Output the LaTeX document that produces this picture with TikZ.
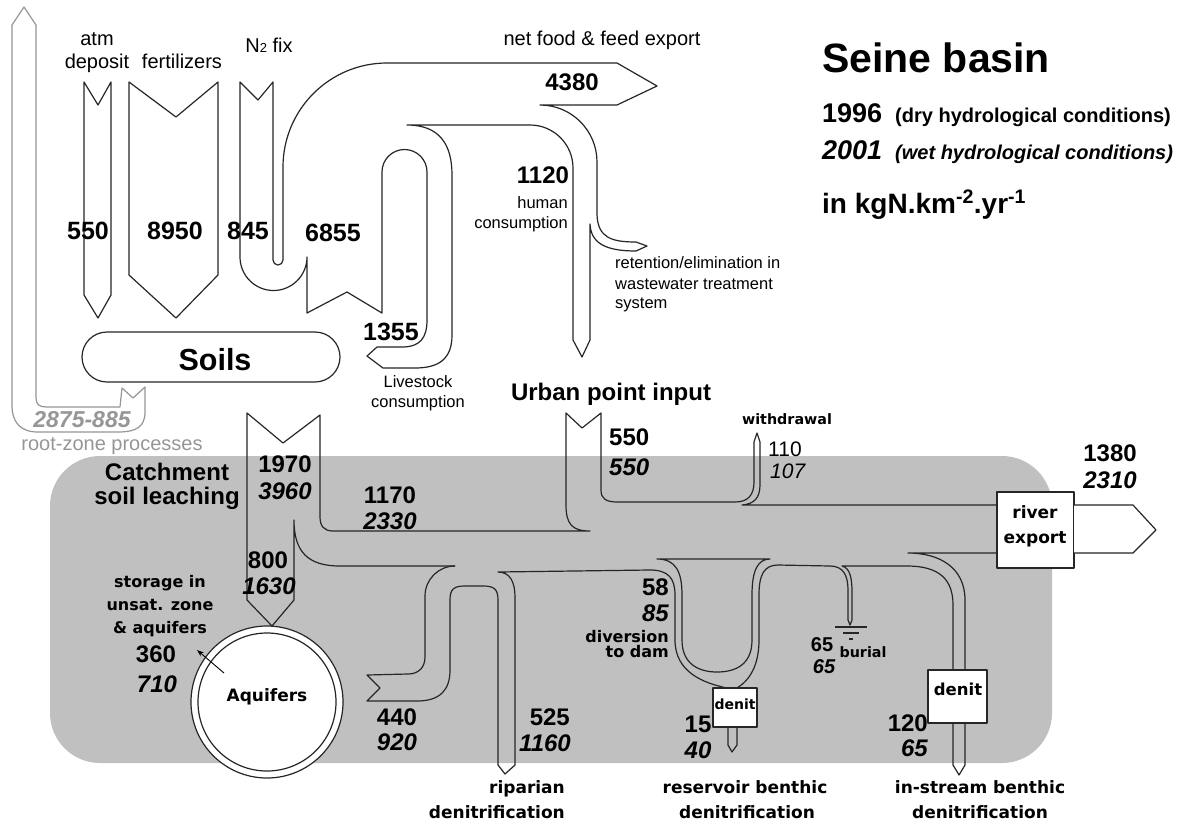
\documentclass[tikz,border=0pt]{standalone}
\usepackage{fontspec}
\setmainfont{Liberation Sans}
\newfontfamily\dvfont{DejaVu Sans}
\usetikzlibrary{arrows.meta}
\definecolor{bgrey}{RGB}{192,192,192}
\definecolor{lgrey}{RGB}{150,150,150}
\newcommand\fsz[1]{\fontsize{#1}{#1}\selectfont}
\begin{document}
\begin{tikzpicture}[x=1pt,y=-1pt,
  ln/.style={line width=1.2pt, draw=black!85, line join=round},
  lgl/.style={line width=1.2pt, draw=lgrey, line join=round},
  num/.style={inner sep=0pt, font=\fsz{24}\bfseries},
  numi/.style={inner sep=0pt, font=\fsz{24}\bfseries\itshape},
  tnum/.style={inner sep=0pt, font=\fsz{25}\bfseries},
  lab/.style={inner sep=0pt, font=\fsz{20}},
  sml/.style={inner sep=0pt, font=\fsz{16.5}},
  dvb/.style={inner sep=0pt, font=\dvfont\fsz{16.5}\bfseries},
  big/.style={inner sep=0pt, font=\fsz{24}\bfseries},
]
\useasboundingbox (0,0) rectangle (1201,825);
\fill[white] (0,0) rectangle (1201,825);
\fill[bgrey, rounded corners=50pt] (50,456) rectangle (1052,763);

% grey root-zone loop arrow
\draw[lgl] (145,387) -- (145,412) .. controls (145,427) and (136,432) .. (118,432) -- (38,432) .. controls (20,432) and (12,422) .. (12,405) -- (12,25) -- (24,7) -- (36,25) -- (36,398) .. controls (36,404) and (39,407) .. (46,407) -- (120,407) -- (122,388) -- (133,398) -- cycle;

% input arrows
\draw[ln] (84,82) -- (98,105) -- (111,82) -- (111,295) -- (98,318) -- (84,295) -- cycle;
\draw[ln] (129,82) -- (176,117) -- (218,82) -- (218,275) -- (176,318) -- (129,275) -- cycle;

% agricultural system
\draw[ln] (240,82) -- (258,100) -- (273,82) -- (273,260) arc[start angle=180,end angle=0,radius=5] -- (283,167) arc[start angle=180,end angle=270,radius=104] -- (617,63) -- (657,86) -- (617,105) -- (540,105) arc[start angle=270,end angle=360,radius=57] -- (597,215) .. controls (598,238) and (612,242) .. (636,242) -- (647,246) -- (636,251) .. controls (605,251) and (591,243) .. (590,224) -- (590,340) -- (582,357) -- (573,340) -- (573,168) arc[start angle=0,end angle=-90,radius=43] -- (407,125) .. controls (440,125) and (452,145) .. (452,175) -- (452,335) .. controls (452,358) and (440,368) .. (415,368) -- (383,368) -- (367,356) -- (377,347) -- (402,347) .. controls (420,347) and (427,338) .. (427,320) -- (427,172) arc[start angle=0,end angle=-180,radius=22.5] -- (382,313) -- (347,292) -- (307,313) -- (307,257) arc[start angle=0,end angle=180,radius=33.5] -- cycle;

% soils
\draw[ln, fill=white, rounded corners=25pt] (82,332) rectangle (340,382);
\node[inner sep=0pt, font=\fsz{30.5}\bfseries] (soils) at (215,360) {Soils};

% leaching, urban, river top
\draw[ln] (455,566) -- (340,566) .. controls (308,566) and (294,552) .. (294,520) -- (294,600) -- (272,626) -- (247,600) -- (247,413) -- (283,443) -- (320,415) -- (320,517) .. controls (320,526) and (324,531) .. (333,531) -- (590,531) .. controls (572,531) and (566,524) .. (566,505) -- (566,413) -- (582,428) -- (601,413) -- (601,490) .. controls (601,499) and (606,502) .. (618,502) -- (735,502) .. controls (748,502) and (754,495) .. (754,482) -- (754,442) -- (757,433) -- (760,442) -- (760,485) .. controls (760,498) and (754,504) .. (742,505) -- (997,505);

% aquifer exchange, riparian, diversion outer left
\draw[ln] (455,566) arc[start angle=-90,end angle=-180,radius=30] -- (425,657) .. controls (425,668) and (418,674) .. (408,674) -- (367,675) -- (380,688) -- (367,701) -- (417,701) .. controls (440,701) and (450,690) .. (450,670) -- (450,600) .. controls (450,589) and (454,586) .. (465,586) -- (483,586) .. controls (494,586) and (498,589) .. (498,600) -- (498,765) -- (505,774) -- (515,765) -- (515,597) .. controls (515,582) and (510,572) .. (498,572) -- (650,570) .. controls (668,570) and (675,578) .. (675,595) -- (675,640) .. controls (675,672) and (703,683) .. (727,688);

% diversion inner U
\draw[ln] (657,559) -- (770,559) .. controls (758,559) and (752,570) .. (752,595) -- (752,640) .. controls (752,665) and (735,672) .. (717,672) .. controls (700,672) and (682,665) .. (682,640) -- (682,595) .. controls (682,572) and (676,559) .. (657,559) -- cycle;

% diversion outer right, burial, in-stream
\draw[ln] (737,688) .. controls (750,680) and (759,665) .. (759,640) -- (759,595) .. controls (759,575) and (764,565) .. (778,565) -- (830,566) .. controls (843,566) and (848,575) .. (848,590) -- (848,620) -- (850,625) -- (852,620) -- (852,592) .. controls (852,578) and (850,568) .. (842,566) -- (907,566) .. controls (940,566) and (953,580) .. (953,605) -- (953,670);
\draw[ln] (965,670) -- (965,600) .. controls (965,568) and (940,553) .. (908,553) -- (997,553);
\draw[ln] (835,627) -- (867,627) (843,633) -- (859,633) (849,639) -- (853,639);

% aquifers
\draw[ln, fill=white] (267,702) circle[radius=76];
\draw[ln] (267,702) circle[radius=69];
\node[dvb, font=\dvfont\fsz{17}\bfseries] (aq) at (267,697) {Aquifers};
\draw[line width=0.9pt, -{Stealth[length=7pt,width=5pt]}] (224,673) -- (197,650);

% boxes
\draw[ln, fill=white] (713,688) rectangle (757,727);
\node[dvb, font=\dvfont\fsz{14}\bfseries] (rdenit) at (735,704) {denit};
\draw[ln] (728,727) -- (728,745) -- (732,752) -- (737,745) -- (737,727);
\draw[ln, fill=white] (928,670) rectangle (987,723);
\node[dvb] (idenit) at (958,689) {denit};
\draw[ln] (953,723) -- (953,765) -- (959,775) -- (965,765) -- (965,723);
\draw[ln, fill=white] (997,492) rectangle (1074,568);
\draw[ln, fill=white] (1074,505) -- (1133,505) -- (1156,530) -- (1133,553) -- (1074,553);
\node[dvb, font=\dvfont\fsz{17}\bfseries] (riv1) at (1035,512) {river};
\node[dvb, font=\dvfont\fsz{17}\bfseries, anchor=base] (riv2) at (1035,543) {export};

% top labels
\node[lab, anchor=base] (atm) at (97,45) {atm};
\node[lab, anchor=base] (dep) at (97,68) {deposit};
\node[lab, anchor=base] (fert) at (182,68) {fertilizers};
\node[lab, anchor=base] (n2) at (269,52) {N{\fsz{13}2} fix};
\node[lab, anchor=base] (nfe) at (602,45) {net food \& feed export};
\node[tnum] (v550) at (88,231) {550};
\node[tnum] (v8950) at (175,231) {8950};
\node[tnum] (v845) at (248,231) {845};
\node[tnum] (v6855) at (333,233) {6855};
\node[tnum] (v1355) at (391,332) {1355};
\node[num] (v4380) at (572,82) {4380};
\node[num] (v1120) at (543,175) {1120};
\node[sml, anchor=base east] (hum1) at (568,208) {human};
\node[sml, anchor=base east] (hum2) at (568,228) {consumption};
\node[sml, anchor=base west] (ret1) at (615,268) {retention/elimination in};
\node[sml, anchor=base west] (ret2) at (615,289) {wastewater treatment};
\node[sml, anchor=base west] (ret3) at (615,308) {system};
\node[sml, anchor=base] (liv1) at (418,387) {Livestock};
\node[sml, anchor=base] (liv2) at (418,407) {consumption};

% title block
\node[inner sep=0pt, anchor=base west, font=\fsz{41}\bfseries] (title) at (822,72) {Seine basin};
\node[inner sep=0pt, anchor=base west, font=\fsz{27}\bfseries] (y96) at (822,122) {1996};
\node[inner sep=0pt, anchor=base west, font=\fsz{20}\bfseries] (y96t) at (895,122) {(dry hydrological conditions)};
\node[inner sep=0pt, anchor=base west, font=\fsz{27}\bfseries\itshape] (y01) at (822,159) {2001};
\node[inner sep=0pt, anchor=base west, font=\fsz{20}\bfseries\itshape] (y01t) at (895,159) {(wet hydrological conditions)};
\node[inner sep=0pt, anchor=base west, font=\fsz{28}\bfseries] (unit) at (822,213) {in kgN.km\textsuperscript{-2}.yr\textsuperscript{-1}};

% root zone
\node[inner sep=0pt, text=lgrey, font=\fsz{23}\bfseries\itshape] (rz1) at (82,420) {2875-885};
\node[inner sep=0pt, text=lgrey, font=\fsz{20}, anchor=base] (rz2) at (112,450) {root-zone processes};

% lower labels
\node[big, anchor=base] (catch1) at (167,480) {Catchment};
\node[big, anchor=base] (catch2) at (167,504) {soil leaching};
\node[num] (a1970) at (285,464) {1970};
\node[numi] (a3960) at (285,491) {3960};
\node[num] (a1170) at (390,495) {1170};
\node[numi] (a2330) at (390,521) {2330};
\node[num] (a800) at (268,560) {800};
\node[numi] (a1630) at (269,586) {1630};
\node[dvb, font=\dvfont\fsz{16}\bfseries, anchor=base] (st1) at (160,587) {storage in};
\node[dvb, font=\dvfont\fsz{16}\bfseries, anchor=base] (st2) at (160,610) {unsat. zone};
\node[dvb, font=\dvfont\fsz{16}\bfseries, anchor=base] (st3) at (160,633) {\& aquifers};
\node[num] (a360) at (156,654) {360};
\node[numi] (a710) at (157,684) {710};
\node[num] (a440) at (397,717) {440};
\node[numi] (a920) at (397,742) {920};
\node[num, anchor=east] (a525) at (570,717) {525};
\node[numi, anchor=east] (a1160) at (571,743) {1160};
\node[dvb, font=\dvfont\fsz{17}\bfseries, anchor=base east] (rip1) at (565,793) {riparian};
\node[dvb, font=\dvfont\fsz{17}\bfseries, anchor=base east] (rip2) at (565,818) {denitrification};
\node[big, anchor=base] (urb) at (611,400) {Urban point input};
\node[num, anchor=west] (u550) at (609,437) {550};
\node[numi, anchor=west] (u550i) at (609,467) {550};
\node[dvb, font=\dvfont\fsz{14.3}\bfseries, anchor=base] (wd) at (787,424) {withdrawal};
\node[inner sep=0pt, font=\fsz{21}, anchor=west] (w110) at (768,449) {110};
\node[inner sep=0pt, font=\fsz{21}\itshape, anchor=west] (w107) at (770,471) {107};
\node[num, anchor=east] (d58) at (669,587) {58};
\node[numi, anchor=east] (d85) at (669,613) {85};
\node[dvb, font=\dvfont\fsz{16}\bfseries, anchor=base east] (dv1) at (669,642) {diversion};
\node[dvb, font=\dvfont\fsz{16}\bfseries, anchor=base east] (dv2) at (669,657) {to dam};
\node[num] (r15) at (698,724) {15};
\node[numi] (r40) at (698,750) {40};
\node[dvb, font=\dvfont\fsz{17}\bfseries, anchor=base] (res1) at (745,793) {reservoir benthic};
\node[dvb, font=\dvfont\fsz{17}\bfseries, anchor=base] (res2) at (747,818) {denitrification};
\node[inner sep=0pt, font=\fsz{20}\bfseries] (b65) at (822,645) {65};
\node[inner sep=0pt, font=\fsz{20}\bfseries\itshape] (b65i) at (824,667) {65};
\node[dvb, font=\dvfont\fsz{14.3}\bfseries, anchor=base] (bur) at (863,657) {burial};
\node[num, anchor=east] (i120) at (928,723) {120};
\node[numi, anchor=east] (i65) at (928,748) {65};
\node[dvb, font=\dvfont\fsz{17}\bfseries, anchor=base] (ins1) at (980,793) {in-stream benthic};
\node[dvb, font=\dvfont\fsz{17}\bfseries, anchor=base] (ins2) at (980,818) {denitrification};
\node[num] (e1380) at (1110,453) {1380};
\node[numi] (e2310) at (1110,480) {2310};
\end{tikzpicture}
\end{document}
